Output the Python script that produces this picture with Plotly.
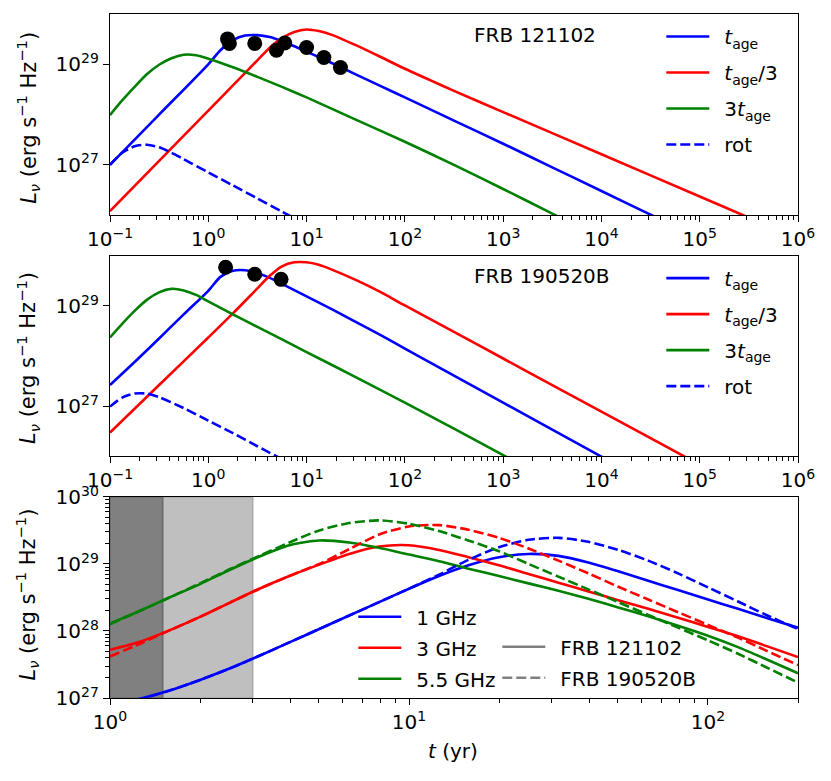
import plotly.graph_objects as go

BLUE, RED, GREEN, GRAY = "#0000ff", "#ff0000", "#008000", "#808080"
FONT = "DejaVu Sans"

# ---- panel 1: FRB 121102 (t in yr, L_nu in erg/s/Hz)
t1_age = [0.1, 0.316, 1.0, 1.33, 1.78, 2.37, 3.16, 4.22, 5.62, 7.50, 10, 17.8, 31.6, 56.2, 100,
          316, 1000, 3160, 1e4, 3.16e4, 1e5]
L1_age = [1.0e27, 1.0e28, 1.0e29, 1.905e29, 3.02e29, 3.72e29, 3.80e29, 3.47e29, 2.88e29, 2.29e29,
          1.78e29, 1.07e29, 6.31e28, 3.72e28, 2.19e28, 7.59e27, 2.63e27, 8.91e26, 3.02e26,
          1.02e26, 3.47e25]
t1_third = [0.1, 0.316, 1.0, 1.78, 3.16, 4.22, 5.62, 7.50, 10, 13.3, 17.8, 31.6, 56.2, 100, 178,
            316, 1000, 1e4, 1e5, 1e6]
L1_third = [1.2e26, 1.2e27, 1.2e28, 3.8e28, 1.2e29, 2.14e29, 3.31e29, 4.37e29, 4.9e29, 4.57e29,
            3.89e29, 2.4e29, 1.41e29, 8.13e28, 4.9e28, 2.95e28, 1.12e28, 1.62e27, 2.34e26, 3.39e25]
t1_triple = [0.1, 0.133, 0.178, 0.237, 0.316, 0.422, 0.562, 0.750, 1.0, 1.78, 3.16, 5.62, 10,
             31.6, 100, 316, 1000, 3160, 1e4]
L1_triple = [9.77e27, 1.905e28, 3.55e28, 6.31e28, 9.77e28, 1.32e29, 1.55e29, 1.51e29, 1.29e29,
             8.71e28, 5.62e28, 3.55e28, 2.19e28, 7.94e27, 2.88e27, 1.0e27, 3.31e26, 1.07e26, 3.47e25]
t1_rot = [0.1, 0.133, 0.178, 0.237, 0.316, 0.422, 0.562, 1.0, 1.78, 3.16, 5.62, 10]
L1_rot = [1.0e27, 1.74e27, 2.34e27, 2.51e27, 2.24e27, 1.74e27, 1.29e27, 7.08e26, 3.89e26, 2.14e26,
          1.17e26, 6.46e25]
t1_obs = [1.57, 1.64, 2.97, 4.94, 6.0, 10.0, 15.0, 22.1]
L1_obs = [3.2e29, 2.6e29, 2.6e29, 1.9e29, 2.65e29, 2.15e29, 1.36e29, 8.6e28]

# ---- panel 2: FRB 190520B
t2_age = [0.1, 0.178, 0.316, 0.562, 1.0, 1.33, 1.78, 2.37, 3.16, 4.22, 5.62, 10, 17.8, 31.6, 56.2,
          100, 316, 1000, 3160, 1e4, 3.16e4]
L2_age = [2.63e27, 7.59e27, 2.24e28, 6.76e28, 2.0e29, 3.8e29, 5.01e29, 5.13e29, 4.47e29, 3.63e29,
          2.75e29, 1.55e29, 8.71e28, 4.79e28, 2.63e28, 1.41e28, 4.07e27, 1.17e27, 3.39e26,
          9.77e25, 2.82e25]
t2_third = [0.1, 0.316, 1.0, 1.78, 3.16, 4.22, 5.62, 7.50, 10, 13.3, 17.8, 31.6, 56.2, 100, 316,
            1000, 3160, 1e4, 3.16e4, 1e5]
L2_third = [2.95e26, 2.63e27, 2.34e28, 7.08e28, 2.24e29, 3.98e29, 6.17e29, 7.41e29, 7.41e29,
            6.61e29, 5.37e29, 3.31e29, 1.905e29, 1.02e29, 3.02e28, 8.91e27, 2.63e27, 7.76e26,
            2.29e26, 6.76e25]
t2_triple = [0.1, 0.133, 0.178, 0.237, 0.316, 0.422, 0.562, 0.750, 1.0, 1.78, 3.16, 5.62, 10,
             31.6, 100, 316, 1000, 3160]
L2_triple = [2.34e28, 4.37e28, 7.94e28, 1.32e29, 1.86e29, 2.19e29, 2.04e29, 1.66e29, 1.23e29,
             6.76e28, 3.8e28, 2.14e28, 1.2e28, 3.8e27, 1.17e27, 3.55e26, 1.05e26, 3.09e25]
t2_rot = [0.1, 0.133, 0.178, 0.237, 0.316, 0.562, 1.0, 1.78, 3.16, 5.62]
L2_rot = [9.77e26, 1.48e27, 1.78e27, 1.78e27, 1.51e27, 9.12e26, 5.13e26, 2.88e26, 1.58e26, 8.71e25]
t2_obs = [1.5, 2.97, 5.5]
L2_obs = [5.9e29, 4.27e29, 3.39e29]

# ---- panel 3: solid = FRB 121102, dashed = FRB 190520B
t3 = [1.0, 1.26, 1.58, 2.0, 2.51, 3.16, 3.98, 5.01, 6.31, 7.94, 10, 12.6, 15.8, 20.0, 25.1, 31.6,
      39.8, 50.1, 63.1, 79.4, 100, 126, 158, 200]
L3_1ghz_a = [7.94e26, 9.77e26, 1.29e27, 1.86e27, 2.75e27, 4.27e27, 6.76e27, 1.07e28, 1.70e28,
             2.69e28, 4.27e28, 6.61e28, 9.55e28, 1.26e29, 1.41e29, 1.32e29, 1.05e29, 7.76e28,
             5.62e28, 4.07e28, 2.95e28, 2.14e28, 1.55e28, 1.12e28]
L3_1ghz_b = [7.59e26, 9.55e26, 1.29e27, 1.86e27, 2.75e27, 4.27e27, 6.76e27, 1.07e28, 1.70e28,
             2.69e28, 4.27e28, 6.92e28, 1.15e29, 1.78e29, 2.29e29, 2.45e29, 2.14e29, 1.62e29,
             1.12e29, 7.24e28, 4.47e28, 2.75e28, 1.70e28, 1.07e28]
L3_3ghz_a = [5.25e27, 6.92e27, 1.02e28, 1.62e28, 2.63e28, 4.27e28, 6.61e28, 9.77e28, 1.41e29,
             1.82e29, 1.905e29, 1.62e29, 1.26e29, 9.55e28, 7.08e28, 5.25e28, 3.89e28, 2.88e28,
             2.14e28, 1.58e28, 1.15e28, 8.32e27, 5.89e27, 4.07e27]
L3_3ghz_b = [4.17e27, 6.46e27, 1.02e28, 1.62e28, 2.63e28, 4.27e28, 6.61e28, 1.0e29, 1.66e29,
             2.75e29, 3.63e29, 3.80e29, 3.24e29, 2.45e29, 1.70e29, 1.12e29, 7.24e28, 4.57e28,
             2.95e28, 1.905e28, 1.23e28, 7.94e27, 5.01e27, 3.09e27]
L3_55ghz_a = [1.29e28, 2.0e28, 3.16e28, 5.01e28, 8.13e28, 1.29e29, 1.905e29, 2.24e29, 2.09e29,
              1.74e29, 1.38e29, 1.10e29, 8.51e28, 6.61e28, 5.13e28, 3.98e28, 3.02e28, 2.24e28,
              1.66e28, 1.20e28, 8.51e27, 5.75e27, 3.72e27, 2.34e27]
L3_55ghz_b = [1.26e28, 2.0e28, 3.16e28, 5.13e28, 8.32e28, 1.32e29, 2.09e29, 3.16e29, 4.07e29,
              4.47e29, 3.98e29, 3.09e29, 2.24e29, 1.55e29, 1.0e29, 6.46e28, 4.17e28, 2.69e28,
              1.74e28, 1.12e28, 7.24e27, 4.57e27, 2.82e27, 1.70e27]

shade_dark = [1.0, 1.5]
shade_light = [1.5, 3.0]
shade_L = [1e27, 1e30]

fig = go.Figure()


def line(x, y, color, n, name=None, dash="solid", legend=None):
    fig.add_trace(go.Scatter(
        x=x, y=y, mode="lines", name=name,
        line=dict(color=color, width=2.6, dash=dash, shape="spline", smoothing=0.7),
        xaxis="x" if n == 1 else f"x{n}", yaxis="y" if n == 1 else f"y{n}",
        showlegend=legend is not None, legend=legend, legendgroup=name,
        hoverinfo="skip"))


def span(xs, fill, edge):
    fig.add_trace(go.Scatter(
        x=[xs[0], xs[1], xs[1], xs[0], xs[0]],
        y=[shade_L[0], shade_L[0], shade_L[1], shade_L[1], shade_L[0]],
        mode="lines", fill="toself", fillcolor=fill, line=dict(color=edge, width=1.6),
        xaxis="x3", yaxis="y3", showlegend=False, hoverinfo="skip"))


DASH = "10px,4px"
SP = "\u2002"
AGE = "<i>t</i><sub>age</sub>"

line(t1_age, L1_age, BLUE, 1, SP + AGE, legend="legend")
line(t1_third, L1_third, RED, 1, SP + AGE + "/3", legend="legend")
line(t1_triple, L1_triple, GREEN, 1, SP + "3" + AGE, legend="legend")
line(t1_rot, L1_rot, BLUE, 1, SP + "rot", DASH, legend="legend")
fig.add_trace(go.Scatter(x=t1_obs, y=L1_obs, mode="markers", showlegend=False,
                         marker=dict(color="black", size=15), xaxis="x", yaxis="y"))

line(t2_age, L2_age, BLUE, 2, SP + AGE, legend="legend2")
line(t2_third, L2_third, RED, 2, SP + AGE + "/3", legend="legend2")
line(t2_triple, L2_triple, GREEN, 2, SP + "3" + AGE, legend="legend2")
line(t2_rot, L2_rot, BLUE, 2, SP + "rot", DASH, legend="legend2")
fig.add_trace(go.Scatter(x=t2_obs, y=L2_obs, mode="markers", showlegend=False,
                         marker=dict(color="black", size=15), xaxis="x2", yaxis="y2"))

span(shade_light, "#bfbfbf", "#ababab")
span(shade_dark, "#808080", "#6c6c6c")
line(t3, L3_1ghz_a, BLUE, 3, SP + "1 GHz", legend="legend3")
line(t3, L3_3ghz_a, RED, 3, SP + "3 GHz", legend="legend3")
line(t3, L3_55ghz_a, GREEN, 3, SP + "5.5 GHz", legend="legend3")
line(t3, L3_1ghz_b, BLUE, 3, None, DASH)
line(t3, L3_3ghz_b, RED, 3, None, DASH)
line(t3, L3_55ghz_b, GREEN, 3, None, DASH)
line([None], [None], GRAY, 3, SP + "FRB 121102", legend="legend4")
line([None], [None], GRAY, 3, SP + "FRB 190520B", DASH, legend="legend4")


def sup(e):
    return "10<sup>" + str(e).replace("-", "\u2212") + "</sup>"


def minors(lo, hi, top):
    out = []
    for e in range(lo, hi):
        for m in range(2, 10):
            if m * 10.0 ** e <= top:
                out.append(m * 10.0 ** e)
    return out


FS = 20
axis_common = dict(type="log", showgrid=False, zeroline=False, showline=True, mirror=True,
                   linecolor="black", linewidth=1.3, ticks="outside", ticklen=6, tickwidth=1.1,
                   tickcolor="black", tickfont=dict(family=FONT, size=FS, color="black"))
minor_ticks = dict(ticks="outside", ticklen=3.5, tickwidth=1, tickcolor="black")

# page body adds an 8 px offset; reference pixel positions are converted below
OFF = 8
W, H = 831 - OFF, 781 - OFF
L, R, T, B = 109.7 - OFF, 33.3, 14 - OFF, 83.3
PW, PH = W - L - R, H - T - B


def px_x(px):
    return (px - OFF - L) / PW


def px_y(py):
    return (H - B - (py - OFF)) / PH


def dom(top_px, bot_px):
    return [px_y(bot_px), px_y(top_px)]


xdecades = list(range(-1, 7))
x_top = dict(axis_common, range=[-1, 6], tickvals=[10.0 ** e for e in xdecades],
             ticktext=[sup(e) for e in xdecades],
             minor=dict(minor_ticks, tickvals=minors(-1, 6, 1e6)))
y_top = dict(axis_common, range=[26, 30], tickvals=[1e27, 1e29], ticktext=[sup(27), sup(29)])

fig.update_layout(
    width=W, height=H, margin=dict(l=L, r=R, t=T, b=B, autoexpand=False),
    paper_bgcolor="white", plot_bgcolor="white",
    font=dict(family=FONT, size=FS, color="black"),
    xaxis=dict(x_top, domain=[0, 1], anchor="y"),
    yaxis=dict(y_top, domain=dom(14, 215), anchor="x"),
    xaxis2=dict(x_top, domain=[0, 1], anchor="y2"),
    yaxis2=dict(y_top, domain=dom(255.7, 456), anchor="x2"),
    xaxis3=dict(axis_common, domain=[0, 1], anchor="y3", range=[0, 2.30103],
                tickvals=[1.0, 10.0, 100.0], ticktext=[sup(0), sup(1), sup(2)],
                minor=dict(minor_ticks, tickvals=minors(0, 3, 200))),
    yaxis3=dict(axis_common, domain=dom(496.7, 697.7), anchor="x3", range=[27, 30],
                tickvals=[1e27, 1e28, 1e29, 1e30], ticktext=[sup(e) for e in range(27, 31)],
                minor=dict(minor_ticks, tickvals=minors(27, 30, 1e30))),
    showlegend=True,
)

leg = dict(bgcolor="rgba(0,0,0,0)", borderwidth=0, itemwidth=43, tracegroupgap=7,
           font=dict(family=FONT, size=FS, color="black"), xanchor="left", yanchor="top")
fig.update_layout(
    legend=dict(leg, x=px_x(661), y=px_y(17)),
    legend2=dict(leg, x=px_x(661), y=px_y(258.5)),
    legend3=dict(leg, x=px_x(353), y=px_y(597), tracegroupgap=2),
    legend4=dict(leg, x=px_x(497), y=px_y(627), tracegroupgap=2),
)

ylab = "<i>L</i><sub><i>\u03bd</i></sub> (erg s<sup>\u22121</sup> Hz<sup>\u22121</sup>)"
notes = [
    dict(text=ylab, x=px_x(27), y=px_y(117.5), textangle=-90, font_size=21),
    dict(text=ylab, x=px_x(27), y=px_y(357.5), textangle=-90, font_size=21),
    dict(text=ylab, x=px_x(27), y=px_y(594), textangle=-90, font_size=21),
    dict(text="FRB 121102", x=px_x(472), y=px_y(35), xanchor="left"),
    dict(text="FRB 190520B", x=px_x(472), y=px_y(276), xanchor="left"),
    dict(text="<i>t</i> (yr)", x=px_x(453), y=px_y(751)),
]
for a in notes:
    base = dict(xref="paper", yref="paper", showarrow=False, xanchor="center", yanchor="middle",
                font=dict(family=FONT, size=FS, color="black"))
    base.update(a)
    if "font_size" in base:
        base["font"] = dict(base["font"], size=base.pop("font_size"))
    fig.add_annotation(base)

fig.write_html("out.html")
